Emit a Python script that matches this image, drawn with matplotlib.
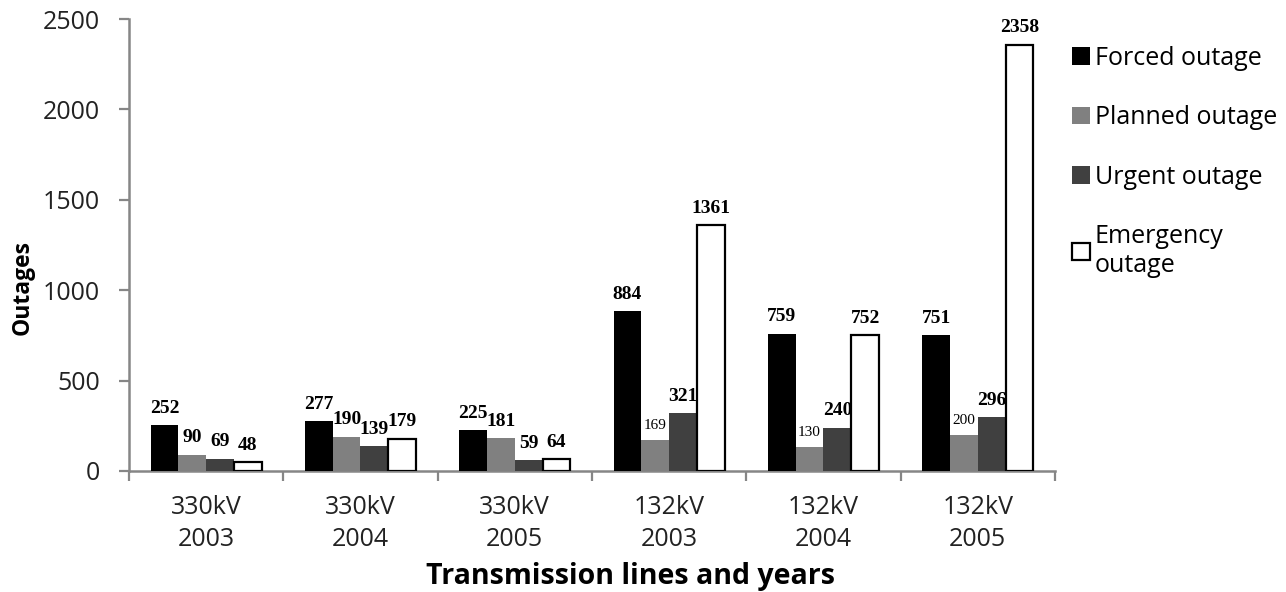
import numpy as np
import matplotlib.pyplot as plt
from matplotlib.ticker import FixedLocator

categories = ['330kV\n2003', '330kV\n2004', '330kV\n2005',
              '132kV\n2003', '132kV\n2004', '132kV\n2005']
series = ['Forced outage', 'Planned outage', 'Urgent outage', 'Emergency\noutage']
forced = [252, 277, 225, 884, 759, 751]
planned = [90, 190, 181, 169, 130, 200]
urgent = [69, 139, 59, 321, 240, 296]
emergency = [48, 179, 64, 1361, 752, 2358]

plt.rcParams['font.family'] = ['Open Sans', 'DejaVu Sans']

fig = plt.figure(figsize=(12.86, 5.92), dpi=100)
ax = fig.add_axes([0.1003, 0.2044, 0.720, 0.7635])

x = np.arange(len(categories))
w = 0.18
colors = ['#000000', '#808080', '#404040', '#ffffff']
values = [forced, planned, urgent, emergency]
grey = '#868686'
txt = '#222222'

bars = []
for i, (vals, c, name) in enumerate(zip(values, colors, series)):
    kw = dict(edgecolor='black', linewidth=1.6) if c == '#ffffff' else dict(linewidth=0)
    b = ax.bar(x + (i - 1.5) * w, vals, w, color=c, label=name, zorder=3, **kw)
    bars.append(b)
    for j, (rect, v) in enumerate(zip(b, vals)):
        # the planned outage labels of the 132kV groups are set smaller
        small = i == 1 and j >= 3
        ax.annotate(str(v), (rect.get_x() + rect.get_width() / 2, rect.get_height()),
                    xytext=(0, 6), textcoords='offset points', ha='center', va='bottom',
                    fontsize=11 if small else 14, fontweight='normal' if small else 'bold',
                    family=['Liberation Serif'], zorder=4)

ax.set_xlim(-0.5, 5.5)
ax.set_ylim(0, 2500)
ax.set_yticks([0, 500, 1000, 1500, 2000, 2500])
ax.set_xticks(x)
ax.set_xticklabels(categories, fontsize=18, color=txt, linespacing=1.4)
ax.xaxis.set_minor_locator(FixedLocator(np.arange(-0.5, 6, 1)))
ax.tick_params(axis='x', which='major', length=0, pad=17)
ax.tick_params(axis='x', which='minor', length=7, width=1.6, color=grey)
ax.tick_params(axis='y', length=7, width=1.6, color=grey, pad=14, labelsize=18,
               labelcolor=txt)

for s in ['top', 'right']:
    ax.spines[s].set_visible(False)
for s in ['left', 'bottom']:
    ax.spines[s].set_color(grey)
    ax.spines[s].set_linewidth(1.8)

ax.set_ylabel('Outages', fontsize=16.5, fontweight='bold')
ax.yaxis.set_label_coords(-0.1015, 0.405)
fig.text(0.49, 0.013, 'Transmission lines and years', fontsize=20.5, fontweight='bold',
         ha='center', va='baseline')

fig.legend(handles=bars, labels=series, loc='upper left', bbox_to_anchor=(0.826, 0.94),
           frameon=False, fontsize=18, handlelength=0.7, handleheight=0.7,
           handletextpad=0.2, labelspacing=1.38, borderaxespad=0)

fig.savefig('out.png', dpi=100, facecolor='white')
